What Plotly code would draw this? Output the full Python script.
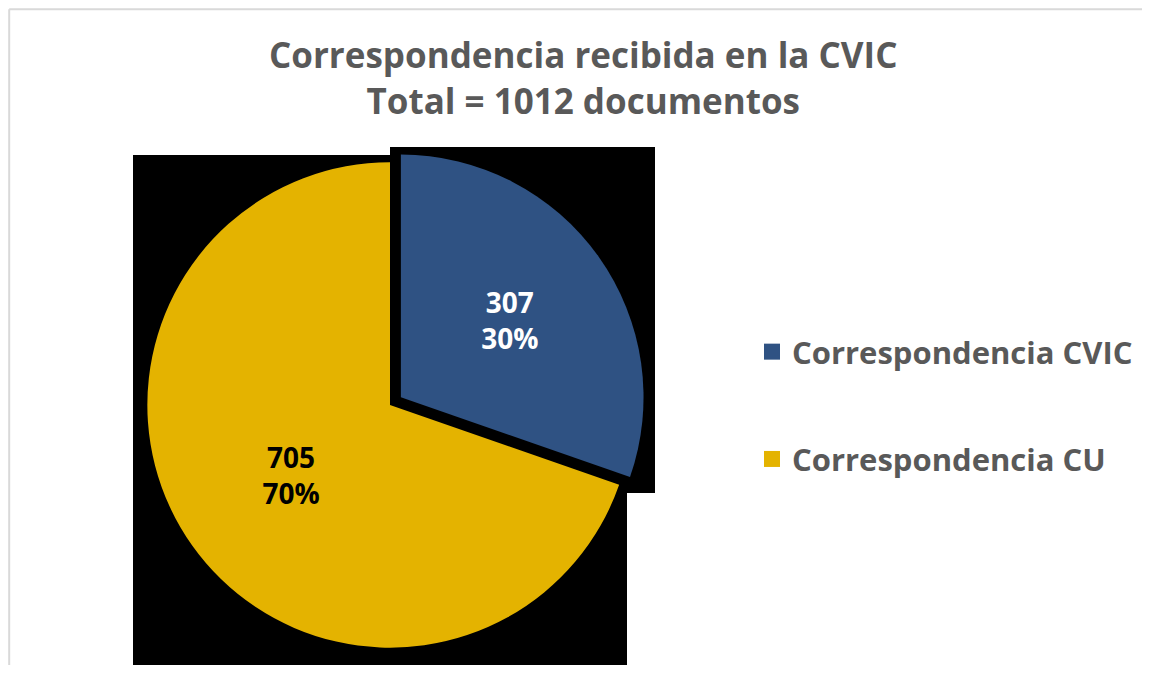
import plotly.graph_objects as go

labels = ["Correspondencia CVIC", "Correspondencia CU"]
values = [307, 705]
slice_colors = ["#2F5283", "#E4B300"]
text_colors = ["white", "black"]
pulls = [0.055, 0]

OFF = 8  # default page body margin
W, H = 1150 - 2 * OFF, 673 - 2 * OFF


def px(x):
    return (x - OFF) / W


def py(y):
    return 1 - (y - OFF) / H


fig = go.Figure()

fig.add_trace(go.Pie(
    labels=labels,
    values=values,
    sort=False,
    direction="clockwise",
    rotation=0,
    pull=pulls,
    marker=dict(colors=slice_colors, line=dict(width=0)),
    texttemplate="%{value}<br>%{percent:.0%}",
    textposition="inside",
    insidetextorientation="horizontal",
    insidetextfont=dict(family="Open Sans", size=28, color=text_colors, weight="bold"),
    showlegend=False,
    domain=dict(x=[px(134), px(646)], y=[py(661), py(149)]),
    hoverinfo="label+value+percent",
))

# legend entries (dummy traces so the vertical gap can match)
for i, (lab, col) in enumerate(zip(labels, slice_colors)):
    fig.add_trace(go.Scatter(
        x=[None], y=[None], mode="markers", name=lab,
        marker=dict(symbol="square", size=20, color=col),
        legendgroup=f"g{i}", showlegend=True,
    ))

frame = dict(color="#D9D9D9", width=2)
shapes = [
    # chart frame (top and left edges visible)
    dict(type="line", xref="paper", yref="paper",
         x0=px(9.2), x1=1.0, y0=py(9.2), y1=py(9.2), line=frame, layer="below"),
    dict(type="line", xref="paper", yref="paper",
         x0=px(9.2), x1=px(9.2), y0=py(9.2), y1=0.0, line=frame, layer="below"),
    # black backing of the large slice
    dict(type="rect", xref="paper", yref="paper",
         x0=px(133), x1=px(627), y0=py(665), y1=py(155),
         line=dict(width=0), fillcolor="black", layer="below"),
    # black backing of the exploded slice
    dict(type="rect", xref="paper", yref="paper",
         x0=px(390), x1=px(655), y0=py(493), y1=py(147),
         line=dict(width=0), fillcolor="black", layer="below"),
]

fig.update_layout(
    width=W, height=H,
    margin=dict(l=0, r=0, t=0, b=0),
    paper_bgcolor="white",
    plot_bgcolor="rgba(0,0,0,0)",
    xaxis=dict(visible=False),
    yaxis=dict(visible=False),
    legend=dict(
        x=px(752), xanchor="left", y=py(325), yanchor="top",
        font=dict(family="Open Sans", size=31, color="#595959", weight="bold"),
        tracegroupgap=64,
        itemsizing="trace",
        bgcolor="rgba(0,0,0,0)",
    ),
    annotations=[dict(
        text="Correspondencia recibida en la CVIC<br>Total = 1012 documentos",
        xref="paper", yref="paper", x=px(583), xanchor="center",
        y=py(29), yanchor="top", showarrow=False,
        font=dict(family="Open Sans", size=35, color="#595959", weight="bold"),
    )],
    shapes=shapes,
)

fig.write_html("out.html")
